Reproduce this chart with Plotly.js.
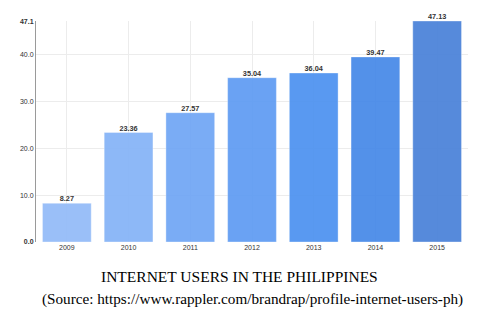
<!DOCTYPE html>
<html>
<head>
<meta charset="utf-8">
<script src="https://cdn.plot.ly/plotly-3.0.1.min.js"></script>
<style>html,body{margin:0;padding:0;background:#fff;}#chart{width:489px;height:322px;}</style>
</head>
<body>
<div id="chart"></div>
<script>
var years = ["2009","2010","2011","2012","2013","2014","2015"];
var users = [8.27, 23.36, 27.57, 35.04, 36.04, 39.47, 47.13];
var barColors = ["#93bbf8","#85b3f7","#70a6f5","#5f9cf3","#4d92f0","#4689e8","#4a82d9"];
var yTickVals = [0, 10, 20, 30, 40, 47.1];
var yTickText = ["<b>0.0</b>","10.0","20.0","30.0","40.0","<b>47.1</b>"];
var titleText = "INTERNET USERS IN THE PHILIPPINES";
var sourceText = "(Source: https://www.rappler.com/brandrap/profile-internet-users-ph)";

var bars = {
  type: "bar",
  x: years,
  y: users,
  marker: {color: barColors, opacity: 0.93, line: {color: "rgba(255,255,255,0.35)", width: 1}},
  hoverinfo: "none"
};

var labels = {
  type: "scatter",
  mode: "text",
  x: years,
  y: users,
  text: users.map(function(v){return "<b>" + v.toFixed(2) + "</b>";}),
  textposition: "top center",
  cliponaxis: false,
  textfont: {family: "Arial, Liberation Sans, sans-serif", size: 7.3, color: "#333"},
  hoverinfo: "none"
};

var layout = {
  width: 489, height: 322,
  margin: {l: 36, r: 21, t: 21, b: 80},
  paper_bgcolor: "#fff", plot_bgcolor: "#fff",
  bargap: 0.21,
  showlegend: false,
  font: {family: "Arial, Liberation Sans, sans-serif", size: 7, color: "#333"},
  xaxis: {
    type: "category",
    showgrid: true, gridcolor: "#ececec", gridwidth: 1,
    showline: false, zeroline: false,
    ticks: "", tickfont: {size: 7, color: "#333"}
  },
  yaxis: {
    range: [0, 47.13],
    tickvals: yTickVals, ticktext: yTickText,
    showgrid: true, gridcolor: "#ececec", gridwidth: 1,
    showline: true, linecolor: "#9a9a9a", linewidth: 1,
    zeroline: false,
    ticks: "", tickfont: {size: 7, color: "#333"}
  },
  annotations: [
    {text: titleText, xref: "paper", yref: "paper", x: 0.471, y: -0.158, xanchor: "center", yanchor: "middle",
     showarrow: false, font: {family: "Liberation Serif, Times New Roman, serif", size: 15.5, color: "#000"}},
    {text: sourceText, xref: "paper", yref: "paper", x: 0.502, y: -0.258, xanchor: "center", yanchor: "middle",
     showarrow: false, font: {family: "Liberation Serif, Times New Roman, serif", size: 15.2, color: "#000"}}
  ]
};

Plotly.newPlot("chart", [bars, labels], layout, {staticPlot: true, displayModeBar: false});
</script>
</body>
</html>
